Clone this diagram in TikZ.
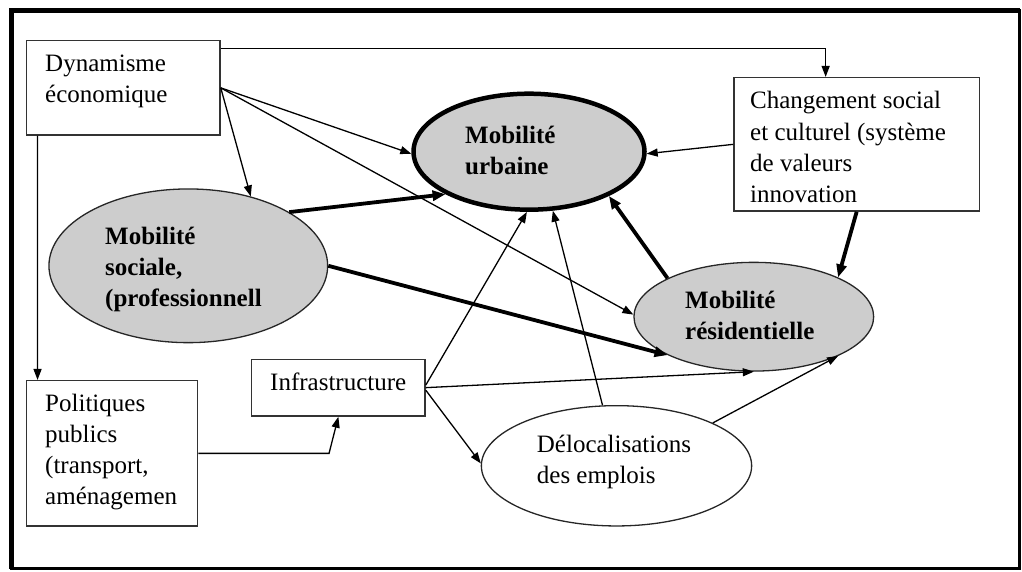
\documentclass[tikz,border=0pt]{standalone}
\usepackage{fontspec}
\setmainfont{Liberation Serif}
\usetikzlibrary{arrows.meta,shapes.geometric}
\definecolor{ellgray}{RGB}{205,205,205}
\begin{document}
\begin{tikzpicture}[x=1pt,y=-1pt,
  box/.style={draw=black!80, line width=1.5pt, rectangle, inner sep=0pt, anchor=center},
  ell/.style={draw=black!85, line width=1.3pt, ellipse, inner sep=0pt, fill=ellgray},
  txt/.style={anchor=base west, align=left, inner sep=0pt, font=\fontsize{25}{31}\selectfont},
  btxt/.style={anchor=base west, align=left, inner sep=0pt, font=\fontsize{25}{31}\selectfont\bfseries},
  thinarr/.style={line width=1.3pt, -{Triangle[length=11pt,width=8pt]}},
  thickarr/.style={line width=3.8pt, -{Triangle[length=13pt,width=10pt]}},
]
\useasboundingbox (0,0) rectangle (1022,572);
\fill[white] (0,0) rectangle (1022,572);
% frame
\draw[line width=2.5pt] (11.5,10.5) rectangle (1019.5,568.5);
\draw[line width=4.5pt] (11.5,568.5) -- (11.5,10.5) -- (1019.5,10.5);

% boxes
\node[box, minimum width=193.3pt, minimum height=94.3pt] (dyn) at (123.35,87.85) {};
\node[box, minimum width=245.3pt, minimum height=133.3pt] (chg) at (856.65,144.35) {};
\node[box, minimum width=171pt, minimum height=145.3pt] (pol) at (112.2,453.35) {};
\node[box, minimum width=173.3pt, minimum height=56.7pt] (inf) at (338.35,387.65) {};

% ellipses
\node[ell, line width=4.5pt, draw=black, minimum width=231pt, minimum height=116pt] (urb) at (529,151.7) {};
\node[ell, minimum width=278.7pt, minimum height=153.7pt] (soc) at (188.3,265.8) {};
\node[ell, minimum width=239.7pt, minimum height=108.7pt] (res) at (753.8,316.7) {};
\node[ell, fill=white, minimum width=270.3pt, minimum height=120.3pt] (del) at (616.5,465.8) {};

% connectors
\draw[thinarr] ([yshift=-8.6pt]dyn.north east) -| ([xshift=-31pt]chg.north);
\draw[thinarr] (dyn.east) -- (urb.181);
\draw[thinarr] (dyn.east) -- (soc.48);
\draw[thinarr] (dyn.east) -- (res.179);
\draw[thinarr] ([xshift=11.6pt]dyn.south west) -- ([xshift=11.6pt]pol.north west);
\draw[thinarr] (pol.east) -- ++(130.6,0) -- (inf.south);
\draw[thickarr] (soc.28) -- (urb.207);
\draw[thickarr] (soc.east) -- (res.204);
\draw[thinarr] (chg.west) -- (urb.-1);
\draw[thickarr] (chg.south) -- (res.25);
\draw[thickarr] (res.156) -- (urb.-29);
\draw[thinarr] ([yshift=2.5pt]inf.east) -- (urb.268);
\draw[thinarr] (del.103) -- (urb.292);
\draw[thinarr] (inf.east) -- (res.south);
\draw[thinarr] ([yshift=-2.5pt]inf.east) -- (del.179);
\draw[thinarr] (del.24) -- (res.-25);

% texts (base anchor = baseline of the last line)
\node[txt] (dynT) at (45,102.2) {Dynamisme\\économique};
\node[txt] (chgT) at (750,202) {Changement social\\et culturel (système\\de valeurs\\innovation};
\node[txt] (polT) at (45,504) {Politiques\\publics\\(transport,\\aménagemen};
\node[txt] (infT) at (270,390) {Infrastructure};
\node[btxt] (urbT) at (465,174.3) {Mobilité\\urbaine};
\node[btxt] (socT) at (105,306.5) {Mobilité\\sociale,\\(professionnell};
\node[btxt] (resT) at (685,339.5) {Mobilité\\résidentielle};
\node[txt] (delT) at (536.7,483.5) {Délocalisations\\des emplois};
\end{tikzpicture}
\end{document}
